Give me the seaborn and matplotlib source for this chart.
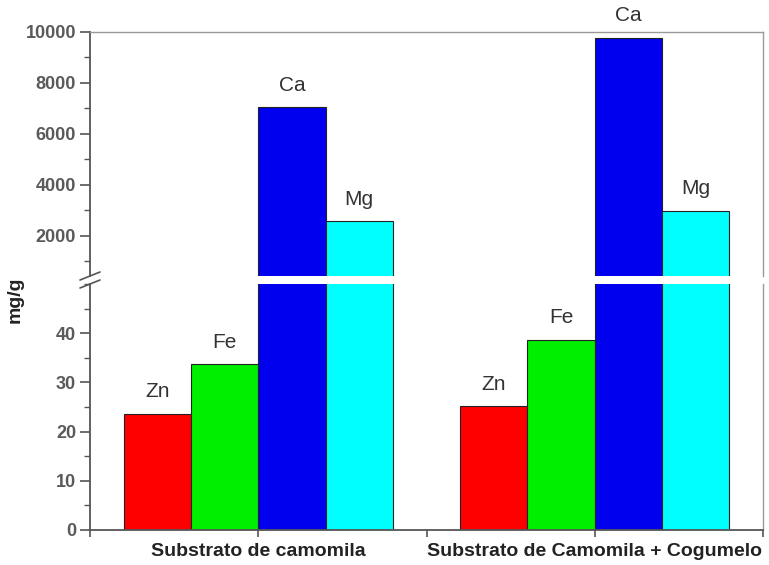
import numpy as np
import pandas as pd
import matplotlib
matplotlib.use('Agg')
import matplotlib.pyplot as plt
import seaborn as sns
from matplotlib.lines import Line2D
from matplotlib.ticker import MultipleLocator, FixedLocator

# dados (mg/g)
grupos = ['Substrato de camomila', 'Substrato de Camomila + Cogumelo']
elementos = ['Zn', 'Fe', 'Ca', 'Mg']
zn = [23.6, 25.2]
fe = [33.7, 38.7]
ca = [7040, 9780]
mg = [2570, 2980]
cores = ['#ff0000', '#00ee00', '#0000ee', '#00ffff']

df = pd.DataFrame({
    'grupo': grupos * 4,
    'elemento': np.repeat(elementos, 2),
    'valor': zn + fe + ca + mg,
})

sns.set_style('white')
plt.rcParams['font.family'] = ['Liberation Sans', 'DejaVu Sans']

fig = plt.figure(figsize=(7.69, 5.65), dpi=100)
L, R = 90 / 769, 763 / 769
ax_top = fig.add_axes([L, 1 - 276 / 565, R - L, (276 - 32) / 565])
ax_bot = fig.add_axes([L, 1 - 530 / 565, R - L, (530 - 284) / 565])

for ax in (ax_top, ax_bot):
    sns.barplot(data=df, x='grupo', y='valor', hue='elemento', order=grupos,
                hue_order=elementos, palette=cores, width=0.8, saturation=1,
                edgecolor='#222222', linewidth=0.8, legend=False, ax=ax)
    ax.set_xlim(-0.5, 1.5)
    ax.set_xlabel('')
    ax.set_ylabel('')
    for s in ax.spines.values():
        s.set_color('#999999')
        s.set_linewidth(1)
    ax.spines['left'].set_color('#555555')
    ax.spines['left'].set_linewidth(1.3)
    ax.tick_params(axis='y', which='major', direction='out', length=7, width=1.2,
                   color='#555555', labelsize=13, labelcolor='#5a5a5a', left=True,
                   pad=3)
    ax.tick_params(axis='y', which='minor', direction='out', length=4, width=1,
                   color='#555555', left=True)

# eixo superior
ax_top.set_ylim(430, 10000)
ax_top.yaxis.set_major_locator(FixedLocator([2000, 4000, 6000, 8000, 10000]))
ax_top.yaxis.set_minor_locator(MultipleLocator(1000))
ax_top.spines['bottom'].set_visible(False)
ax_top.tick_params(axis='x', bottom=False, labelbottom=False)

# eixo inferior
ax_bot.set_ylim(0, 50)
ax_bot.yaxis.set_major_locator(FixedLocator([0, 10, 20, 30, 40]))
ax_bot.yaxis.set_minor_locator(MultipleLocator(5))
ax_bot.spines['top'].set_visible(False)
ax_bot.spines['bottom'].set_color('#555555')
ax_bot.spines['bottom'].set_linewidth(1.3)
ax_bot.set_xticks([-0.5, 0, 0.5, 1, 1.5])
ax_bot.set_xticklabels(['', grupos[0], '', grupos[1], ''])
ax_bot.tick_params(axis='x', direction='out', length=5, width=1.2, color='#555555',
                   bottom=True, labelcolor='#222222', labelsize=14, pad=4)
for t in ax_bot.get_xticklabels():
    t.set_fontweight('bold')
for ax in (ax_top, ax_bot):
    for t in ax.get_yticklabels():
        t.set_fontweight('bold')

# rótulos dos elementos
for ax, mostrar in ((ax_bot, ['Zn', 'Fe']), (ax_top, ['Ca', 'Mg'])):
    for nome, cont in zip(elementos, ax.containers):
        if nome not in mostrar:
            continue
        for p in cont.patches:
            ax.annotate(nome, (p.get_x() + p.get_width() / 2, p.get_height()),
                        xytext=(0, 9), textcoords='offset points', ha='center',
                        va='bottom', fontsize=15, color='#333333',
                        annotation_clip=False)

# marcas de quebra do eixo
for yb in (276, 284):
    y = 1 - yb / 565
    fig.add_artist(Line2D([80 / 769, 100 / 769], [y - 4 / 565, y + 4 / 565],
                          color='#555555', lw=1.2))

fig.text(15 / 769, 1 - 300 / 565, 'mg/g', rotation=90, ha='center', va='center',
         fontsize=14, fontweight='bold', color='#222222')

fig.savefig('out.png', dpi=100, facecolor='white')
